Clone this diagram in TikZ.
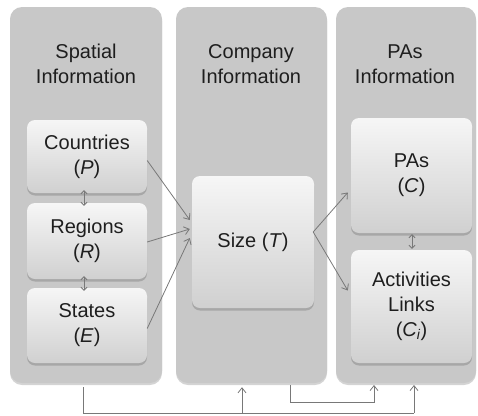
\documentclass[tikz,border=0pt]{standalone}
\usepackage{fontspec}
\setmainfont{Liberation Sans}
\usetikzlibrary{shadows,calc,arrows.meta}
\definecolor{colfill}{RGB}{200,200,200}
\definecolor{colshadow}{RGB}{170,170,170}
\definecolor{boxtop}{RGB}{246,246,246}
\definecolor{boxbot}{RGB}{208,208,208}
\definecolor{linec}{RGB}{120,120,120}
\definecolor{textc}{RGB}{30,30,30}
\tikzset{
  column/.style={fill=colfill, rounded corners=12pt, draw=none,
    drop shadow={shadow xshift=0pt, shadow yshift=-2pt, opacity=0.5, fill=colshadow}},
  title/.style={align=center, text=textc, font=\fontsize{20}{25}\selectfont},
  infobox/.style={rounded corners=8pt, top color=boxtop, bottom color=boxbot, draw=none,
    align=center, text=textc, font=\fontsize{20}{25}\selectfont,
    drop shadow={shadow xshift=0pt, shadow yshift=-2.5pt, opacity=0.45, fill=gray}},
  conn/.style={draw=linec, line width=0.8pt, -{Straight Barb[length=5pt,width=8pt]}},
  dconn/.style={draw=linec, line width=0.8pt, {Straight Barb[length=3pt,width=6pt]}-{Straight Barb[length=3pt,width=6pt]}},
  plain/.style={draw=linec, line width=0.8pt}
}
\begin{document}
\begin{tikzpicture}[x=1pt,y=-1pt]
\useasboundingbox (0,0) rectangle (478,415);
% columns
\node[column, minimum width=152pt, minimum height=376pt] (colL) at (86,195) {};
\node[column, minimum width=151pt, minimum height=376pt] (colM) at (251.5,195) {};
\node[column, minimum width=140pt, minimum height=376pt] (colR) at (406,195) {};
% titles
\node[title] (tL) at (86,64) {Spatial\\Information};
\node[title] (tM) at (251,64) {Company\\Information};
\node[title] (tR) at (405,64) {PAs\\Information};
% inner boxes
\node[infobox, minimum width=120pt, minimum height=73pt] (cP) at (87,156.5) {Countries\\(\textit{P})};
\node[infobox, minimum width=120pt, minimum height=76pt] (cR) at (87,241) {Regions\\(\textit{R})};
\node[infobox, minimum width=120pt, minimum height=75pt] (cE) at (87,325.5) {States\\(\textit{E})};
\node[infobox, minimum width=122pt, minimum height=132pt] (size) at (253,242) {Size (\textit{T})};
\node[infobox, minimum width=121pt, minimum height=115pt] (pas) at (411.5,175.5) {PAs\\(\textit{C})};
\node[infobox, minimum width=121pt, minimum height=113pt] (act) at (411.5,306.5) {Activities\\Links\\(\textit{C\textsubscript{i}})};
% double arrows
\draw[dconn] ($(cP.south)+(-3,-3)$) -- ($(cR.north)+(-3,3)$);
\draw[dconn] ($(cR.south)+(-3,-3)$) -- ($(cE.north)+(-3,3)$);
\draw[dconn] ($(pas.south)+(0.5,1)$) -- ($(act.north)+(0.5,-1)$);
% into size
\draw[conn] ($(cP.east)+(0,4)$) -- ($(size.west)+(-2,-22)$);
\draw[conn] ($(cR.east)+(0,1)$) -- ($(size.west)+(-2,-13)$);
\draw[conn] ($(cE.east)+(0,3)$) -- ($(size.west)+(-2,-4)$);
% out of size
\draw[conn] ($(size.east)+(-1,-10)$) -- ($(pas.west)+(-3,17)$);
\draw[conn] ($(size.east)+(-1,-10)$) -- ($(act.west)+(-3,-16)$);
% bottom connectors
\coordinate (b1) at ($(colL.south)+(-3,4)$);
\coordinate (b1d) at (83,413);
\coordinate (b2) at (414,413);
\coordinate (b3) at (242,413);
\draw[plain] (b1) -- (b1d) -- (b2);
\draw[conn] (b2) -- (414,385);
\draw[conn] (b3) -- ($(colM.south)+(-9.5,4)$);
\coordinate (c1) at (290,385);
\draw[conn] (c1) -- (290,402) -- (374,402) -- (374,385);
\end{tikzpicture}
\end{document}
